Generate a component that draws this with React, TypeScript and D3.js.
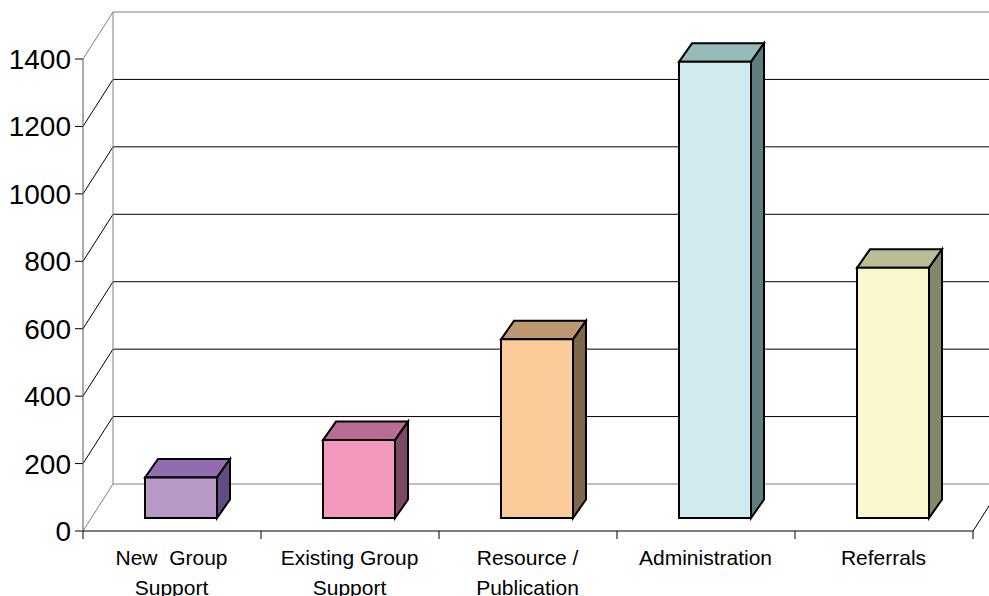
import React from "react";
import * as d3 from "d3";

const categories = ["New Group Support", "Existing Group Support", "Resource / Publication", "Administration", "Referrals"];
const labelLines = [["New  Group", "Support"], ["Existing Group", "Support"], ["Resource /", "Publication"], ["Administration"], ["Referrals"]];
const values = [120, 231, 530, 1353, 742];
const yTicks = [0, 200, 400, 600, 800, 1000, 1200, 1400];
const frontColors = ["#b699c6", "#f398bd", "#fbcb99", "#cfebf0", "#fcf8cd"];
const topColors = ["#926caf", "#b96d94", "#bd976f", "#96bbb9", "#bcbc96"];
const sideColors = ["#604c80", "#7d4a66", "#7d664c", "#5f7d7d", "#86866a"];

const W = 989, H = 596;
const x = d3.scaleBand<string>().domain(categories).range([83, 973]);
const y = d3.scaleLinear().domain([0, 1400]).range([531, 59]);
const wallDx = 30, wallDy = -47;
const barDx = 13, barDy = -18.5, barInsetX = 62, barW = 72, barLift = -13;

export default function App() {
  const x0 = x.range()[0], x1 = x.range()[1];
  const boundaries = [...categories.map((c) => x(c) as number), x1];
  const sansFont = "'Liberation Sans', Arial, sans-serif";
  return (
    <svg width={W} height={H} viewBox={`0 0 ${W} ${H}`} style={{ position: "absolute", left: 0, top: 0, background: "#fff" }}>
      {yTicks.map((t) => {
        const py = y(t);
        const edge = t === 0 || t === 1400;
        return (
          <g key={t}>
            <line x1={x0} y1={py} x2={x0 + wallDx} y2={py + wallDy} stroke={edge ? "#808080" : "#000"} strokeWidth={1} />
            <line x1={x0 + wallDx} y1={py + wallDy} x2={x1 + wallDx} y2={py + wallDy} stroke={edge ? "#808080" : "#000"} strokeWidth={1} />
            <line x1={x0 - 8} y1={py} x2={x0} y2={py} stroke="#000" strokeWidth={1} />
            <text x={x0 - 12} y={py + 10} textAnchor="end" fontFamily={sansFont} fontSize={28} fill="#000">{t}</text>
          </g>
        );
      })}
      <line x1={x0 + wallDx} y1={y(1400) + wallDy} x2={x0 + wallDx} y2={y(0) + wallDy} stroke="#808080" strokeWidth={1} />
      <line x1={x1} y1={y(0)} x2={x1 + wallDx} y2={y(0) + wallDy} stroke="#000" strokeWidth={1} />
      <line x1={x0} y1={y(1400)} x2={x0} y2={y(0)} stroke="#555" strokeWidth={1} />
      <line x1={x0} y1={y(0)} x2={x1} y2={y(0)} stroke="#000" strokeWidth={1} />
      {boundaries.map((b) => (
        <line key={b} x1={b} y1={y(0)} x2={b} y2={y(0) + 8} stroke="#000" strokeWidth={1} />
      ))}
      {categories.map((c, i) => {
        const bx = (x(c) as number) + barInsetX;
        const top = y(values[i]) + barLift;
        const bottom = y(0) + barLift;
        const r = bx + barW;
        const face = `M${bx},${top}H${r}V${bottom}H${bx}Z`;
        const topFace = `M${bx},${top}L${bx + barDx},${top + barDy}H${r + barDx}L${r},${top}Z`;
        const side = `M${r},${top}L${r + barDx},${top + barDy}V${bottom + barDy}L${r},${bottom}Z`;
        return (
          <g key={c} stroke="#000" strokeWidth={2} strokeLinejoin="miter">
            <path d={topFace} fill={topColors[i]} />
            <path d={side} fill={sideColors[i]} />
            <path d={face} fill={frontColors[i]} />
          </g>
        );
      })}
      {categories.map((c, i) => (
        <text key={c} textAnchor="middle" fontFamily={sansFont} fontSize={21} fill="#000" style={{ whiteSpace: "pre" }}>
          {labelLines[i].map((l, j) => (
            <tspan key={j} x={(x(c) as number) + x.bandwidth() / 2 - 0.5} y={565 + j * 30}>{l}</tspan>
          ))}
        </text>
      ))}
    </svg>
  );
}
